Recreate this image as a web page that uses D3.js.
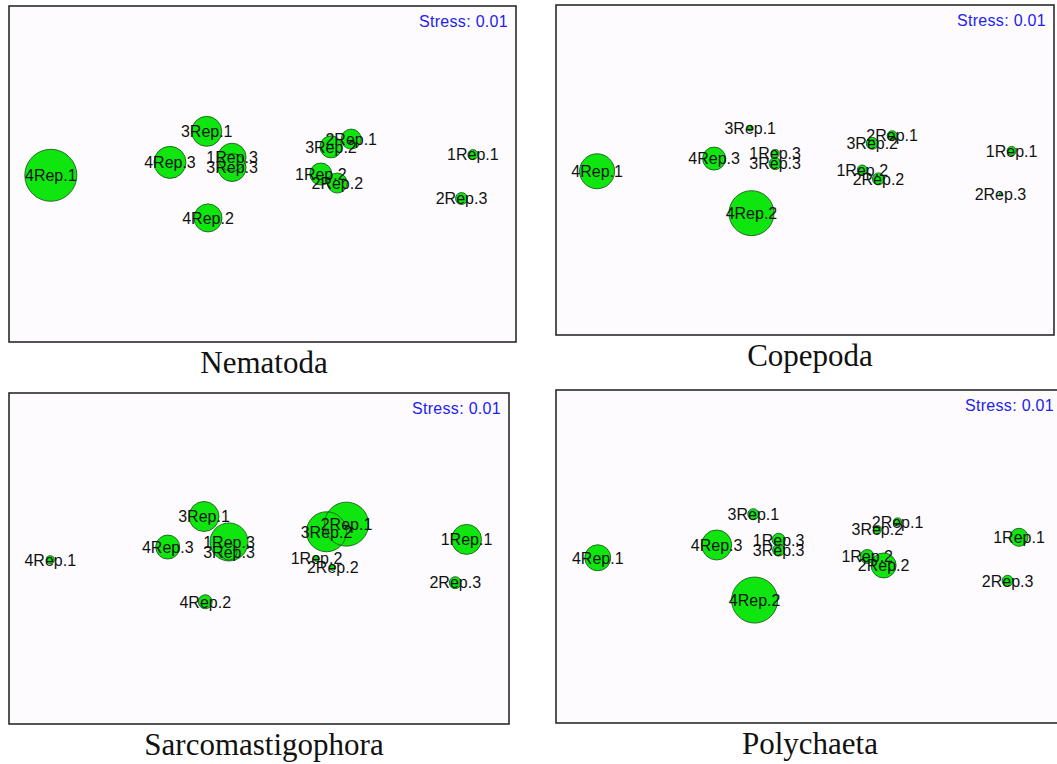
<!DOCTYPE html>
<html>
<head>
<meta charset="utf-8">
<script src="https://cdn.jsdelivr.net/npm/d3@7/dist/d3.min.js"></script>
<style>
  html, body { margin: 0; padding: 0; background: #ffffff; }
  svg { display: block; }
</style>
</head>
<body>
<svg id="chart" width="1057" height="764"></svg>
<script>
// Sample names (treatment + replicate)
const samples = ["1Rep.1", "1Rep.2", "1Rep.3", "2Rep.1", "2Rep.2", "2Rep.3",
                 "3Rep.1", "3Rep.2", "3Rep.3", "4Rep.1", "4Rep.2", "4Rep.3"];

// Shared 2-D MDS ordination coordinates
const mdsX = [1.66, 0.46, -0.24, 0.70, 0.59, 1.57, -0.44, 0.54, -0.24, -1.67, -0.43, -0.73];
const mdsY = [0.15, 0.00, 0.13, 0.27, -0.07, -0.19, 0.33, 0.21, 0.05, -0.01, -0.34, 0.09];

// Taxa overlaid as bubbles
const taxa = ["Nematoda", "Copepoda", "Sarcomastigophora", "Polychaeta"];
const stress = [0.01, 0.01, 0.01, 0.01];

// Relative abundance per sample (bubble size) for each taxon
const nematoda          = [3.7, 17.9, 29.0, 14.8, 14.8, 5.3, 33.3, 17.9, 29.0, 100.0, 29.0, 37.9];
const copepoda          = [3.0, 3.7, 2.4, 3.7, 5.3, 0.3, 1.3, 5.3, 5.3, 45.3, 74.9, 19.6];
const sarcomastigophora = [33.3, 1.3, 53.4, 71.6, 1.3, 5.3, 33.3, 59.2, 9.5, 2.4, 7.2, 21.3];
const polychaeta        = [12.0, 7.2, 6.3, 2.4, 23.1, 4.5, 4.5, 2.4, 5.3, 25.0, 78.3, 33.3];
const abundances = [nematoda, copepoda, sarcomastigophora, polychaeta];

// Panel frames on the page
const frames = [
  { x: 9,   y: 6,   w: 507, h: 336, tx: 264 },
  { x: 556, y: 5,   w: 498, h: 330, tx: 810 },
  { x: 9,   y: 393, w: 500, h: 331, tx: 264 },
  { x: 556, y: 390, w: 506, h: 333, tx: 810 }
];

const svg = d3.select("#chart");
svg.append("rect").attr("width", 1057).attr("height", 764).attr("fill", "#ffffff");

const rScale = d3.scaleSqrt().domain([0, 100]).range([0, 26]);

taxa.forEach((taxon, i) => {
  const f = frames[i];
  const g = svg.append("g").attr("transform", `translate(${f.x},${f.y})`);
  const x = d3.scaleLinear().domain([-2, 2]).range([0, f.w]);
  const y = d3.scaleLinear().domain([-1.3, 1.3]).range([f.h, 0]);

  g.append("rect")
    .attr("width", f.w).attr("height", f.h)
    .attr("fill", "#fdfbfe")
    .attr("stroke", "#2b2b2b").attr("stroke-width", 1.6);

  const pts = samples.map((s, k) => ({ name: s, x: mdsX[k], y: mdsY[k], v: abundances[i][k] }));

  // bubble fills, then outlines on top so overlapping rims stay visible
  g.append("g").selectAll("circle").data(pts).join("circle")
    .attr("cx", d => x(d.x)).attr("cy", d => y(d.y))
    .attr("r", d => rScale(d.v))
    .attr("fill", "#0fe60f");
  g.append("g").selectAll("circle").data(pts).join("circle")
    .attr("cx", d => x(d.x)).attr("cy", d => y(d.y))
    .attr("r", d => rScale(d.v))
    .attr("fill", "none")
    .attr("stroke", "#1d5e1d").attr("stroke-width", 0.9);

  g.append("g").selectAll("text").data(pts).join("text")
    .attr("x", d => x(d.x)).attr("y", d => y(d.y))
    .attr("dy", "0.36em")
    .attr("text-anchor", "middle")
    .attr("font-family", "'Liberation Sans', Arial, sans-serif")
    .attr("font-size", 16)
    .attr("fill", "#111")
    .text(d => d.name);

  g.append("text")
    .attr("x", f.w - 8).attr("y", 21)
    .attr("text-anchor", "end")
    .attr("font-family", "'Liberation Sans', Arial, sans-serif")
    .attr("font-size", 16)
    .attr("letter-spacing", 0.3)
    .attr("fill", "#2222ee")
    .text("Stress: " + stress[i].toFixed(2));

  svg.append("text")
    .attr("x", f.tx).attr("y", f.y + f.h + 31)
    .attr("text-anchor", "middle")
    .attr("font-family", "'Liberation Serif', 'Times New Roman', serif")
    .attr("font-size", 31)
    .attr("fill", "#111")
    .text(taxon);
});
</script>
</body>
</html>
